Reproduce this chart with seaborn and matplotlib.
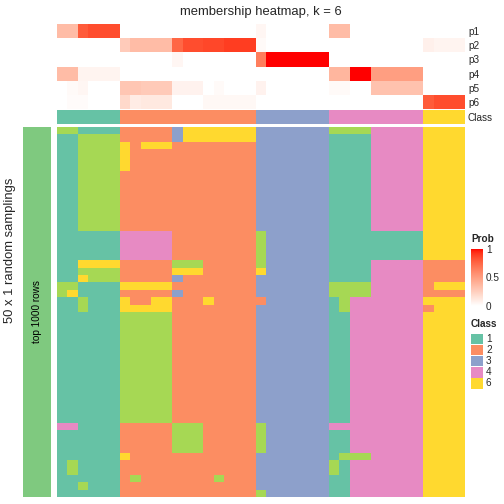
import numpy as np
import pandas as pd
import matplotlib
matplotlib.use("Agg")
import matplotlib.pyplot as plt
from matplotlib.colors import ListedColormap
from matplotlib.patches import Rectangle
import seaborn as sns

# ---------------- data ----------------
title = "membership heatmap, k = 6"
row_title = "50 x 1 random samplings"
slice_label = "top 1000 rows"
prob_labels = ["p1", "p2", "p3", "p4", "p5", "p6"]
class_levels = [1, 2, 3, 4, 5, 6]
legend_classes = [1, 2, 3, 4, 6]
class_colors = ["#66C2A5", "#FC8D62", "#8DA0CB", "#E78AC3", "#A6D854", "#FFD92F"]

# probabilities per sample (39 samples)
p1 = [.35, .35, .80, .85, .85, .85, 0, 0, 0, 0, 0, 0, 0, 0, 0, 0, 0, 0, 0,
      .05, 0, 0, 0, 0, 0, 0, .35, .35, 0, 0, 0, 0, 0, 0, 0, 0, 0, 0, 0]
p2 = [0, 0, 0, 0, 0, 0, .27, .35, .35, .35, .35, .75, .85, .85, .87, .87, .9, .9, .9,
      .03, 0, 0, 0, 0, 0, 0, 0, 0, 0, 0, 0, 0, 0, 0, 0, .08, .06, .06, .06]
p3 = [0, 0, 0, 0, 0, 0, 0, 0, 0, 0, 0, .05, 0, 0, 0, 0, 0, 0, 0,
      .65, 1, 1, 1, 1, 1, 1, 0, 0, 0, 0, 0, 0, 0, 0, 0, 0, 0, 0, 0]
p4 = [.35, .35, .06, .06, .06, .06, 0, 0, 0, 0, 0, 0, 0, 0, 0, 0, 0, 0, 0,
      0, 0, 0, 0, 0, 0, 0, .38, .38, 1, 1, .5, .5, .5, .5, .5, 0, 0, 0, 0]
p5 = [0, .03, .05, 0, 0, 0, .3, .3, .28, .28, .28, .07, .07, .07, 0, .03, 0, 0, 0,
      .07, 0, 0, 0, 0, 0, 0, .03, .03, 0, 0, .32, .32, .32, .32, .32, 0, 0, 0, 0]
p6 = [0, .02, .02, 0, 0, 0, .2, .1, .12, .12, .12, 0, 0, 0, .04, .04, .04, .04, .04,
      0, 0, 0, 0, 0, 0, 0, 0, 0, 0, 0, 0, 0, 0, 0, 0, .8, .85, .85, .85]

sample_class = [1, 1, 1, 1, 1, 1,
                2, 2, 2, 2, 2, 2, 2, 2, 2, 2, 2, 2, 2,
                3, 3, 3, 3, 3, 3, 3,
                4, 4, 4, 4, 4, 4, 4, 4, 4,
                6, 6, 6, 6]

# class membership in each of the 50 random samplings (rows) for 39 samples
membership_rows = [
    "55 1111 22222 3 6666666 3 333333 5555 44444 6666",
    "11 5555 22222 3 6666666 3 333333 1111 44444 6666",
    "11 5555 62666 2 2222222 3 333333 1111 44444 6666",
    "11 5555 62222 2 2222222 3 333333 1111 44444 6666",
    "11 5555 62222 2 2222222 3 333333 1111 44444 6666",
    "11 5555 62222 2 2222222 3 333333 1111 44444 6666",
    "11 5555 22222 2 2222222 3 333333 1111 44444 6666",
    "11 5555 22222 2 2222222 3 333333 1111 44444 6666",
    "11 5555 22222 2 2222222 3 333333 1111 44444 6666",
    "11 5555 22222 2 2222222 3 333333 1111 44444 6666",
    "11 5555 22222 2 2222222 3 333333 1111 44444 6666",
    "11 5555 22222 2 2222222 3 333333 1111 44444 6666",
    "11 5555 22222 2 2222222 3 333333 1111 44444 6666",
    "11 5555 22222 2 2222222 3 333333 1111 44444 6666",
    "11 1111 44444 2 2222222 5 333333 1111 11111 6666",
    "11 1111 44444 2 2222222 5 333333 1111 11111 6666",
    "11 1111 44444 2 2222222 5 333333 1111 11111 6666",
    "11 1111 44444 2 2222222 5 333333 1111 11111 6666",
    "11 6666 22222 555 22222 5 333333 1111 44444 2222",
    "11 5555 22222 666 22222 6 333333 1111 44444 2222",
    "11 6555 22222 3 2222222 3 333333 1111 44444 2222",
    "55 1111 66666 2 2222222 3 333333 5555 44444 2666",
    "56 1111 22222 3 2222222 3 333333 5555 44444 2222",
    "11 5111 62266 222 6 2222 2 333333 1 5 44 44444 6666",
    "11 5111 66666 2 2222222 3 333333 1 5 44 44444 2666",
    "11 1111 55555 2 2222222 3 333333 11 44 44444 6666",
    "11 1111 55555 2 2222222 3 333333 11 44 44444 6666",
    "11 1111 55555 2 2222222 3 333333 11 44 44444 6666",
    "11 1111 55555 2 2222222 3 333333 11 44 44444 6666",
    "11 1111 55555 2 2222222 3 333333 11 44 44444 6666",
    "11 1111 55555 2 2222222 3 333333 11 44 44444 6666",
    "11 1111 55555 2 2222222 3 333333 11 44 44444 6666",
    "11 1111 55555 2 2222222 3 333333 11 44 44444 6666",
    "11 1111 55555 2 2222222 3 333333 11 44 44444 6666",
    "11 1111 55555 2 2222222 3 333333 11 44 44444 6666",
    "11 1111 55555 2 2222222 3 333333 11 44 44444 6666",
    "11 1111 55555 2 2222222 3 333333 11 44 44444 6666",
    "11 1111 55555 2 2222222 3 333333 11 44 44444 6666",
    "11 1111 55555 2 2222222 3 333333 11 44 44444 6666",
    "11 1111 55555 2 2222222 3 333333 11 44 44444 6666",
    "44 1111 22222 555 22222 5 333333 44 44 44444 6666",
    "11 1111 22222 555 22222 5 333333 11 44 44444 6666",
    "11 1111 22222 555 22222 5 333333 11 44 44444 6666",
    "11 1111 22222 555 22222 5 333333 11 44 44444 6666",
    "11 1111 62222 2 2222222 3 333333 1 5 55 44444 6666",
    "15 1111 22222 2 2222222 3 333333 5 1 44 44444 6666",
    "15 1111 22222 2 2222222 3 333333 5 1 44 44444 6666",
    "11 1111 25222 2222 5 222 3 333333 11 44 44444 6666",
    "11 5111 22222 2 2222222 3 333333 11 44 44444 6666",
    "11 1111 22222 2 2222222 5 333333 11 44 44444 6666",
]

# ---------------- helpers ----------------
W = H = 504.0


def px(x0, y0, x1, y1):
    return [x0 / W, 1 - y1 / H, (x1 - x0) / W, (y1 - y0) / H]


def lab_white_red(n=256):
    # interpolate white -> red in CIE Lab space
    L0, a0, b0 = 100.0, 0.0, 0.0
    L1, a1, b1 = 53.24, 80.09, 67.20
    t = np.linspace(0, 1, n)
    L = L0 + (L1 - L0) * t
    a = a0 + (a1 - a0) * t
    b = b0 + (b1 - b0) * t
    fy = (L + 16) / 116
    fx = fy + a / 500
    fz = fy - b / 200
    d = 6 / 29

    def finv(f):
        return np.where(f > d, f ** 3, 3 * d * d * (f - 4 / 29))

    X = 0.95047 * finv(fx)
    Y = finv(fy)
    Z = 1.08883 * finv(fz)
    M = np.array([[3.2406, -1.5372, -0.4986],
                  [-0.9689, 1.8758, 0.0415],
                  [0.0557, -0.2040, 1.0570]])
    rgb = M @ np.vstack([X, Y, Z])
    rgb = np.clip(rgb, 0, 1)
    rgb = np.where(rgb <= 0.0031308, 12.92 * rgb, 1.055 * rgb ** (1 / 2.4) - 0.055)
    return ListedColormap(np.clip(rgb.T, 0, 1))


# ---------------- figure ----------------
sns.set_theme(style="white")
plt.rcParams['font.family'] = ['Liberation Sans', 'DejaVu Sans']

fig = plt.figure(figsize=(7, 7), dpi=72)
fig.patch.set_facecolor("white")

class_cmap = ListedColormap(class_colors)
prob_cmap = lab_white_red()

n_samples = len(sample_class)
mat = np.array([[int(c) for c in r.replace(" ", "")] for r in membership_rows])
assert mat.shape == (50, n_samples)

# probability rows
ax_p = fig.add_axes(px(57, 24, 465, 109))
cax = fig.add_axes(px(471, 249, 483, 306))
prob_df = pd.DataFrame([p1, p2, p3, p4, p5, p6], index=prob_labels)
sns.heatmap(prob_df, ax=ax_p, cmap=prob_cmap, vmin=0, vmax=1, cbar=True, cbar_ax=cax,
            xticklabels=False, yticklabels=prob_labels)
ax_p.yaxis.tick_right()
ax_p.tick_params(axis="y", length=0, pad=3, labelsize=10, labelrotation=0)

# class annotation row
ax_c = fig.add_axes(px(57, 110, 465, 124))
sns.heatmap(pd.DataFrame([sample_class], index=["Class"]), ax=ax_c, cmap=class_cmap,
            vmin=0.5, vmax=6.5, cbar=False, xticklabels=False, yticklabels=["Class"])
ax_c.yaxis.tick_right()
ax_c.tick_params(axis="y", length=0, pad=3, labelsize=10, labelrotation=0)

# main membership matrix
ax_m = fig.add_axes(px(57, 127, 465, 497))
sns.heatmap(mat, ax=ax_m, cmap=class_cmap, vmin=0.5, vmax=6.5, cbar=False,
            xticklabels=False, yticklabels=False)

# left slice bar
ax_l = fig.add_axes(px(23, 127, 51, 497))
sns.heatmap(np.zeros((50, 1)), ax=ax_l, cmap=ListedColormap(["#7FC97F"]), cbar=False,
            xticklabels=False, yticklabels=False)
ax_l.text(0.5, 0.5, slice_label, transform=ax_l.transAxes, rotation=90,
          ha="center", va="center", fontsize=10, color="black")

# titles
fig.text(261 / W, 1 - 12 / H, title, ha="center", va="center", fontsize=13)
fig.text(10 / W, 1 - 250 / H, row_title, ha="center", va="center", rotation=90, fontsize=13)

# colorbar legend
cax.set_yticks([0, 0.5, 1])
cax.set_yticklabels(["0", "0.5", "1"])
cax.tick_params(axis="y", which="both", left=True, right=True, direction="in",
                color="white", length=3, width=1, labelsize=10, pad=3)
for s in cax.spines.values():
    s.set_visible(False)
fig.text(471 / W, 1 - 239 / H, "Prob", ha="left", va="center", fontsize=10, fontweight="bold")

# class legend
fig.text(471 / W, 1 - 324 / H, "Class", ha="left", va="center", fontsize=10, fontweight="bold")
for i, c in enumerate(legend_classes):
    y0 = 334 + 11.1 * i
    fig.add_artist(Rectangle((471 / W, 1 - (y0 + 10.2) / H), 12 / W, 10.2 / H,
                             transform=fig.transFigure,
                             facecolor=class_colors[class_levels.index(c)], edgecolor="none"))
    fig.text(486 / W, 1 - (y0 + 5.1) / H, str(c), ha="left", va="center", fontsize=10)

fig.savefig("out.png", dpi=72, facecolor="white")
